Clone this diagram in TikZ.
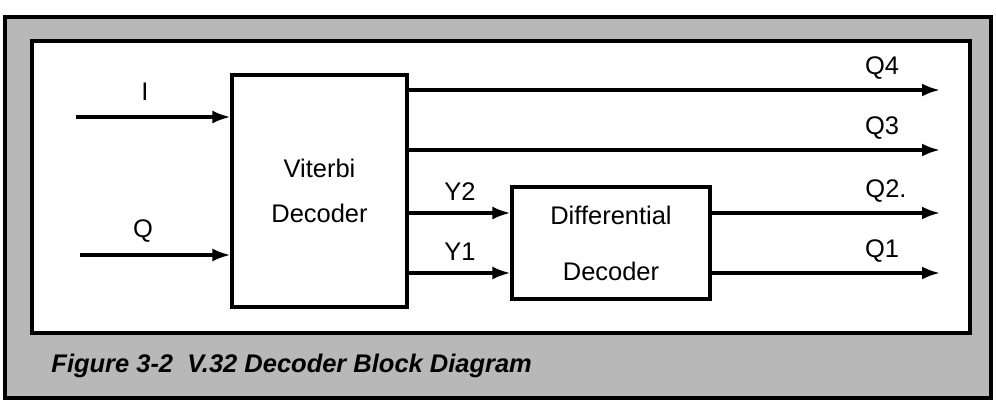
\documentclass[tikz,border=0pt]{standalone}
\usepackage{fontspec}
\setmainfont{Liberation Sans}
\usetikzlibrary{arrows.meta}
\tikzstyle{every node}=[font=\fontsize{14.5}{17}\selectfont]
\tikzstyle{every path}=[line width=1.8pt,line cap=butt,line join=miter]
\tikzstyle{block}=[draw,rectangle,align=center,inner sep=0pt]
\tikzstyle{signal}=[-{Latex[length=3.6mm,width=2.6mm]}]

\begin{document}
\begin{tikzpicture}[x=0.02cm,y=-0.02cm]
	\useasboundingbox (0,0) rectangle (996,413);

	% frame
	\draw[fill=black!28] (5,17) rectangle (991,398);
	\draw[fill=white] (32,41) rectangle (970,333);

	% blocks
	\node[block,minimum width=3.5cm,minimum height=4.64cm] (vit) at (319.5,191)
		{Viterbi\\[9pt]Decoder};
	\node[block,minimum width=3.96cm,minimum height=2.24cm] (diff) at (611,243)
		{Differential\\[15pt]Decoder};

	% inputs
	\coordinate (inI) at (76,117);
	\coordinate (inQ) at (80,255);
	\draw[signal] (inI) -- (vit.west |- inI);
	\draw[signal] (inQ) -- (vit.west |- inQ);
	\node (lblI) at (145,92) {I};
	\node (lblQ) at (143,231) {Q};

	% Viterbi to differential
	\coordinate (y2) at (0,213);
	\coordinate (y1) at (0,273);
	\draw[signal] (vit.east |- y2) -- (diff.west |- y2);
	\draw[signal] (vit.east |- y1) -- (diff.west |- y1);
	\node (lblY2) at (460,192) {Y2};
	\node (lblY1) at (460,252) {Y1};

	% outputs
	\coordinate (outQ4) at (940,90);
	\coordinate (outQ3) at (940,150);
	\coordinate (outQ2) at (940,213);
	\coordinate (outQ1) at (940,273);
	\draw[signal] (vit.east |- outQ4) -- (outQ4);
	\draw[signal] (vit.east |- outQ3) -- (outQ3);
	\draw[signal] (diff.east |- outQ2) -- (outQ2);
	\draw[signal] (diff.east |- outQ1) -- (outQ1);
	\node (lblQ4) at (882,68) {Q4};
	\node (lblQ3) at (882,128) {Q3};
	\node (lblQ2) at (886,191) {Q2.};
	\node (lblQ1) at (882,251) {Q1};

	% caption
	\node[anchor=west,font=\fontsize{14.5}{17}\selectfont\bfseries\itshape] (cap) at (44,366)
		{Figure 3-2\ \ V.32 Decoder Block Diagram};
\end{tikzpicture}
\end{document}
